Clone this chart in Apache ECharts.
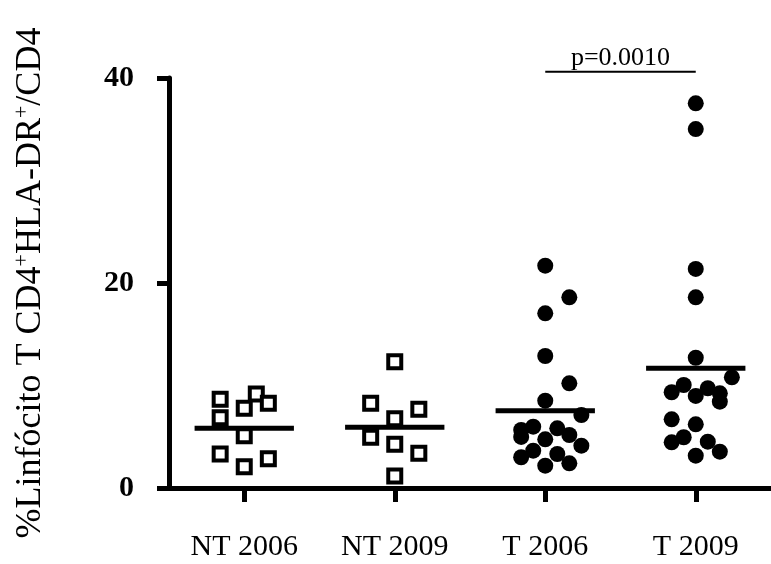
<!DOCTYPE html>
<html>
<head>
<meta charset="utf-8">
<script src="https://cdn.jsdelivr.net/npm/echarts@6/dist/echarts.min.js"></script>
<style>
html,body{margin:0;padding:0;background:#fff;}
#chart{width:771px;height:564px;}
</style>
</head>
<body>
<div id="chart"></div>
<script>
// ---- data ----
const categories = ['NT 2006', 'NT 2009', 'T 2006', 'T 2009'];
const yTicks = [0, 20, 40];

const nt2006 = [8.65, 6.86, 7.78, 9.17, 8.26, 5.10, 3.32, 2.08, 2.86];
const nt2006Jitter = [-0.16, -0.16, 0, 0.08, 0.16, 0, -0.16, 0, 0.16];

const nt2009 = [12.32, 8.26, 7.68, 6.76, 4.95, 4.26, 3.39, 1.17];
const nt2009Jitter = [0, -0.16, 0.16, 0, -0.16, 0, 0.16, 0];

const t2006 = [21.69, 18.60, 17.04, 12.88, 10.21, 8.52, 7.12, 5.98, 5.82, 5.66, 4.98, 5.17, 4.75, 4.13, 3.64, 3.32, 3.00, 2.18, 2.41];
const t2006Jitter = [0, 0.16, 0, 0, 0.16, 0, 0.24, -0.08, 0.08, -0.16, -0.16, 0.16, 0, 0.24, -0.08, 0.08, -0.16, 0, 0.16];

const t2009 = [37.53, 35.02, 21.37, 18.60, 12.71, 10.80, 10.05, 9.34, 9.73, 8.98, 9.24, 8.42, 6.70, 6.21, 4.95, 4.46, 4.52, 3.15, 3.54];
const t2009Jitter = [0, 0, 0, 0, 0, 0.24, -0.08, -0.16, 0.08, 0, 0.16, 0.16, -0.16, 0, -0.08, -0.16, 0.08, 0, 0.16];

const means = [5.82, 5.92, 7.54, 11.68];
const meanHalfWidth = 0.33;

const pText = 'p=0.0010';
const pGroups = [3, 4];
const pLevel = 40.6;

// ---- build ----
function pts(vals, jit, cat) {
  return vals.map((v, i) => [cat + jit[i], v]);
}
const meanData = [];
means.forEach((m, i) => {
  meanData.push([i + 1 - meanHalfWidth, m]);
  meanData.push([i + 1 + meanHalfWidth, m]);
  meanData.push('-');
});

const serif = '"Liberation Serif", "Times New Roman", serif';
const black = '#000';
const squareStyle = {color: '#fff', borderColor: black, borderWidth: 4, opacity: 1};
const dotStyle = {color: black, opacity: 1};

const chart = echarts.init(document.getElementById('chart'), null, {renderer: 'canvas'});
chart.setOption({
  animation: false,
  backgroundColor: '#fff',
  grid: {left: 169, top: 78, bottom: 76, right: -12, containLabel: false},
  xAxis: [
    {
      type: 'category',
      data: categories,
      boundaryGap: true,
      axisLine: {show: true, lineStyle: {color: black, width: 5}},
      axisTick: {show: true, alignWithLabel: true, length: 14, lineStyle: {color: black, width: 5}},
      axisLabel: {fontFamily: serif, fontSize: 30, color: black, margin: 44},
      splitLine: {show: false}
    },
    {type: 'value', min: 0.5, max: 4.5, show: false}
  ],
  yAxis: {
    type: 'value',
    min: yTicks[0],
    max: yTicks[yTicks.length - 1],
    interval: 20,
    axisLine: {show: true, lineStyle: {color: black, width: 5}},
    axisTick: {show: true, length: 12, lineStyle: {color: black, width: 5}},
    axisLabel: {fontFamily: serif, fontSize: 30, fontWeight: 'bold', color: black, margin: 35},
    splitLine: {show: false},
    name: '{n|%Linfócito T CD4}{s|+}{n|HLA-DR}{s|+}{n|/CD4}',
    nameLocation: 'middle',
    nameRotate: 90,
    nameGap: 118,
    nameTextStyle: {
      rich: {
        n: {fontFamily: serif, fontSize: 36, color: black, lineHeight: 40},
        s: {fontFamily: serif, fontSize: 22, color: black, lineHeight: 22, verticalAlign: 'top'}
      }
    }
  },
  series: [
    {
      type: 'scatter', xAxisIndex: 1, data: pts(nt2006, nt2006Jitter, 1),
      symbol: 'rect', symbolSize: 13, itemStyle: squareStyle, z: 2
    },
    {
      type: 'scatter', xAxisIndex: 1, data: pts(nt2009, nt2009Jitter, 2),
      symbol: 'rect', symbolSize: 13, itemStyle: squareStyle, z: 2
    },
    {
      type: 'scatter', xAxisIndex: 1, data: pts(t2006, t2006Jitter, 3),
      symbol: 'circle', symbolSize: 16, itemStyle: dotStyle, z: 2
    },
    {
      type: 'scatter', xAxisIndex: 1, data: pts(t2009, t2009Jitter, 4),
      symbol: 'circle', symbolSize: 16, itemStyle: dotStyle, z: 2
    },
    {
      type: 'line', xAxisIndex: 1, data: meanData, symbol: 'none',
      connectNulls: false, lineStyle: {color: black, width: 5, opacity: 1}, z: 3
    },
    {
      type: 'line', xAxisIndex: 1, data: [[pGroups[0], pLevel], [pGroups[1], pLevel]],
      symbol: 'none', clip: false, lineStyle: {color: black, width: 2, opacity: 1}, z: 3
    },
    {
      type: 'scatter', xAxisIndex: 1, data: [[(pGroups[0] + pGroups[1]) / 2, pLevel]],
      symbolSize: 0, clip: false, silent: true, itemStyle: {opacity: 1},
      label: {show: true, position: 'top', distance: 1, formatter: pText,
        fontFamily: serif, fontSize: 26, color: black}
    }
  ]
});
</script>
</body>
</html>
